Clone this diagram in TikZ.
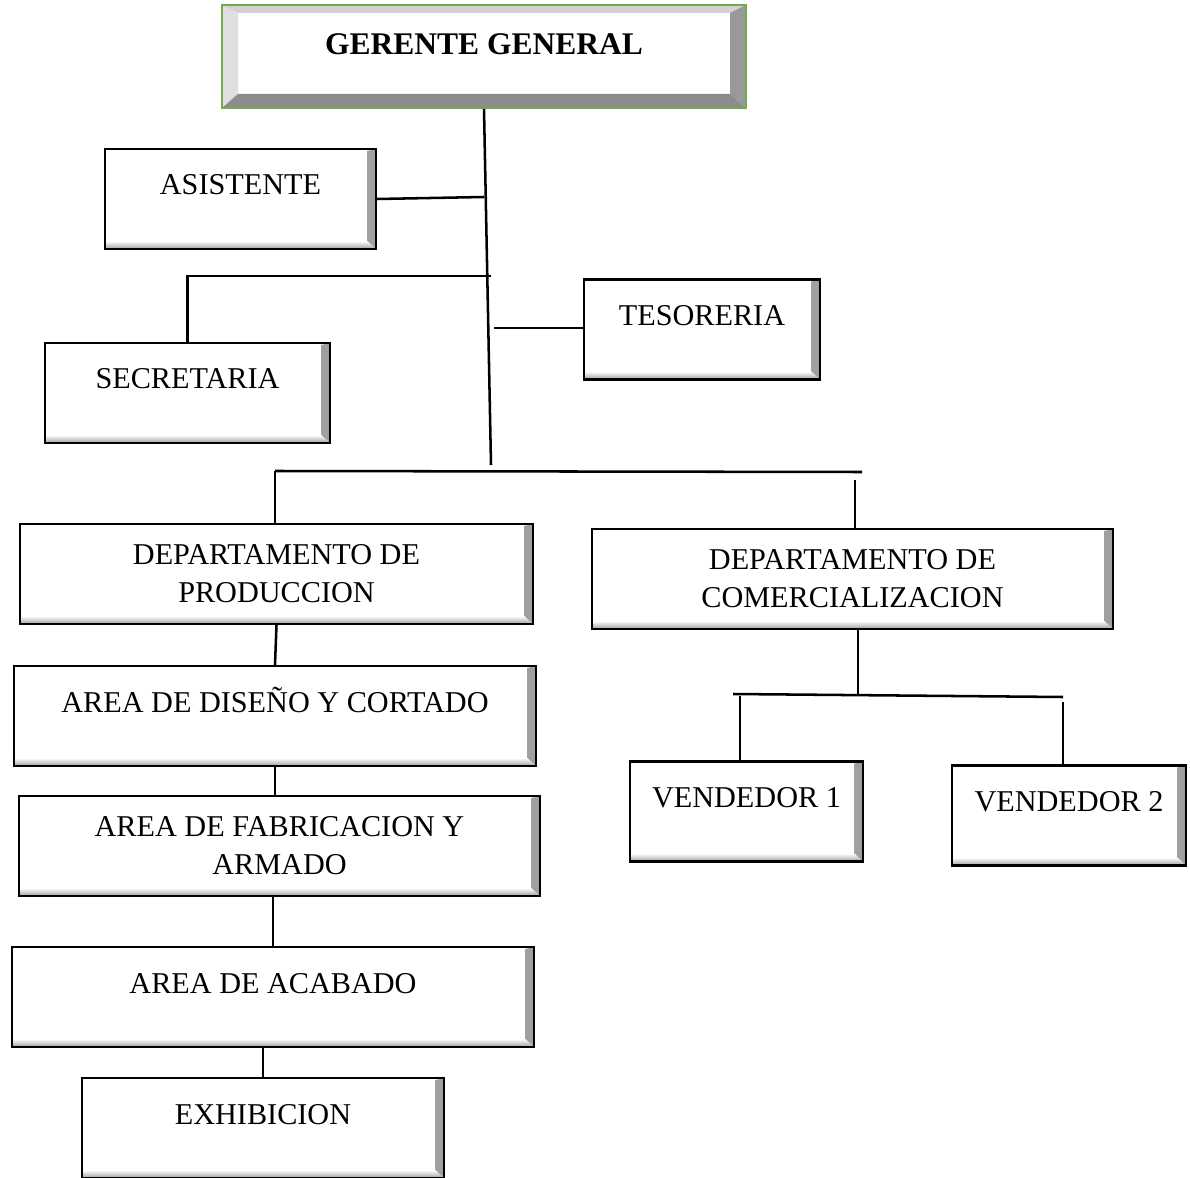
\documentclass[tikz,border=0pt]{standalone}
\usepackage{fontspec}
\setmainfont{Liberation Serif}
\usetikzlibrary{calc}
\definecolor{verde}{HTML}{70AD47}

\begin{document}
\begin{tikzpicture}[scale=1.0,
  caja/.style={draw=black, line width=1.5pt, fill=white, minimum height=2.5cm,
    inner xsep=2pt, inner ysep=0pt, align=center, font=\fontsize{21.5}{27}\selectfont,
    path picture={
      \shade[left color=white,right color=black!38] (path picture bounding box.north east) -- (path picture bounding box.south east)
        -- ($(path picture bounding box.south east)+(-0.22,0.2)$) -- ($(path picture bounding box.north east)+(-0.22,-0.05)$) -- cycle;
      \shade[top color=white,bottom color=black!38] (path picture bounding box.south west) -- (path picture bounding box.south east)
        -- ($(path picture bounding box.south east)+(-0.22,0.2)$) -- ($(path picture bounding box.south west)+(0.05,0.2)$) -- cycle;}},
  una/.style={caja, text height=1.15cm, text depth=1.35cm},
  jefe/.style={draw=verde, line width=1.2pt, fill=white, minimum width=13.1cm, minimum height=2.575cm,
    inner ysep=0pt, text height=1.25cm, text depth=1.325cm, font=\bfseries\fontsize{22.4}{27}\selectfont,
    path picture={
      \fill[gray!25] (path picture bounding box.north west) -- (path picture bounding box.south west)
        -- ($(path picture bounding box.south west)+(0.4,0.35)$) -- ($(path picture bounding box.north west)+(0.4,-0.2)$) -- cycle;
      \fill[gray!35] (path picture bounding box.north west) -- (path picture bounding box.north east)
        -- ($(path picture bounding box.north east)+(-0.4,-0.2)$) -- ($(path picture bounding box.north west)+(0.4,-0.2)$) -- cycle;
      \fill[gray!80] (path picture bounding box.north east) -- (path picture bounding box.south east)
        -- ($(path picture bounding box.south east)+(-0.4,0.35)$) -- ($(path picture bounding box.north east)+(-0.4,-0.2)$) -- cycle;
      \fill[gray!90] (path picture bounding box.south west) -- (path picture bounding box.south east)
        -- ($(path picture bounding box.south east)+(-0.4,0.35)$) -- ($(path picture bounding box.south west)+(0.4,0.35)$) -- cycle;}},
  linea/.style={line width=1.8pt}]
  \useasboundingbox (0,0) rectangle (29.75,-29.45);

  \node[jefe] (gg) at (12.1,-1.4125) {GERENTE GENERAL};
  \node[una, minimum width=6.775cm] (asis) at (6.0125,-4.975) {ASISTENTE};
  \node[una, minimum width=7.125cm] (secr) at (4.6875,-9.825) {SECRETARIA};
  \node[una, minimum width=5.9cm] (teso) at (17.55,-8.2375) {TESORERIA};
  \node[caja, minimum width=12.825cm] (depprod) at (6.9125,-14.35) {DEPARTAMENTO DE\\PRODUCCION};
  \node[caja, minimum width=13.025cm] (depcom) at (21.3125,-14.475) {DEPARTAMENTO DE\\COMERCIALIZACION};
  \node[una, minimum width=13.05cm] (diseno) at (6.875,-17.9) {AREA DE DISEÑO Y CORTADO};
  \node[caja, minimum width=13.025cm] (fab) at (6.9875,-21.15) {AREA DE FABRICACION Y\\ARMADO};
  \node[una, minimum width=13.05cm] (acab) at (6.825,-24.925) {AREA DE ACABADO};
  \node[una, minimum width=9.05cm] (exhib) at (6.575,-28.2) {EXHIBICION};
  \node[una, minimum width=5.825cm] (vend1) at (18.6625,-20.2875) {VENDEDOR 1};
  \node[una, minimum width=5.85cm] (vend2) at (26.725,-20.3875) {VENDEDOR 2};

  \coordinate (tronco) at (12.275,-11.625);
  \coordinate (asisj) at (12.1,-4.925);
  \coordinate (secj) at (12.275,-6.9);
  \coordinate (tesoj) at (12.35,-8.2);
  \coordinate (barL) at (6.875,-11.775);
  \coordinate (barR) at (21.55,-11.8);
  \coordinate (comj) at (21.375,-12.0);
  \coordinate (ventaj) at (21.45,-17.4);
  \coordinate (ventaL) at (18.325,-17.35);
  \coordinate (ventaR) at (26.575,-17.425);
  \coordinate (v1j) at (18.5,-17.4);
  \coordinate (v2j) at (26.575,-17.55);

  \draw[linea] (gg.south) -- (tronco);
  \draw[linea] (asis.east) -- (asisj);
  \draw[linea] (secj) -| (secr.north);
  \draw[linea] (tesoj) -- (tesoj -| teso.west);
  \draw[linea] (barL) -- (barR);
  \draw[linea] (barL) -- (barL |- depprod.north);
  \draw[linea] (comj) -- (comj |- depcom.north);
  \draw[linea] (depprod.south) -- (diseno.north);
  \draw[linea] (diseno.south) -- (diseno.south |- fab.north);
  \draw[linea] (acab.north) -- (acab.north |- fab.south);
  \draw[linea] (exhib.north) -- (exhib.north |- acab.south);
  \draw[linea] (ventaj) -- (ventaj |- depcom.south);
  \draw[linea] (ventaL) -- (ventaR);
  \draw[linea] (v1j) -- (v1j |- vend1.north);
  \draw[linea] (v2j) -- (v2j |- vend2.north);
\end{tikzpicture}
\end{document}
